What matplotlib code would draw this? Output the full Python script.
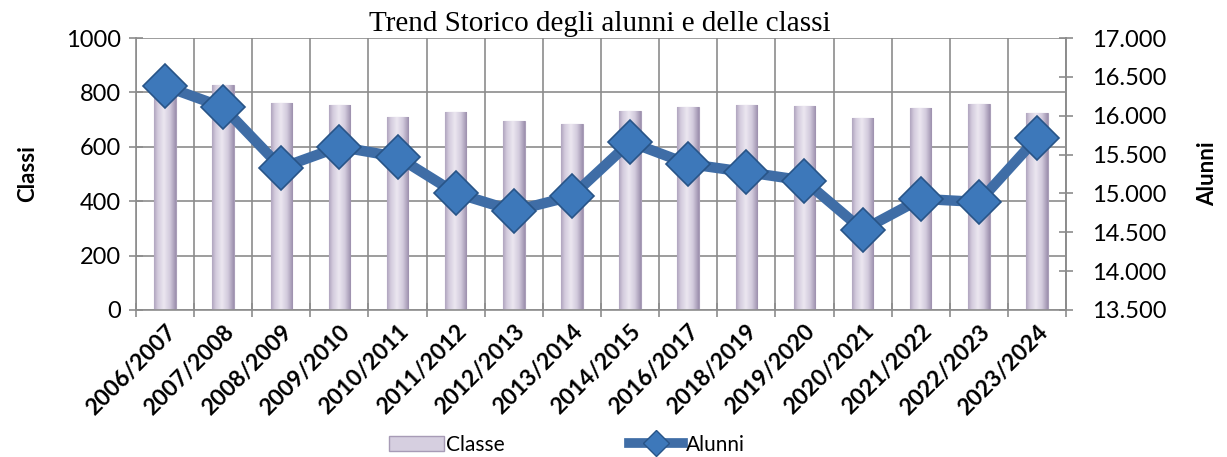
import numpy as np
import matplotlib.pyplot as plt
from matplotlib.ticker import FuncFormatter, MultipleLocator
from matplotlib.lines import Line2D
from matplotlib.patches import Patch
from matplotlib.colors import LinearSegmentedColormap

anni = ['2006/2007', '2007/2008', '2008/2009', '2009/2010', '2010/2011', '2011/2012',
        '2012/2013', '2013/2014', '2014/2015', '2016/2017', '2018/2019', '2019/2020',
        '2020/2021', '2021/2022', '2022/2023', '2023/2024']
classi = [822, 827, 761, 754, 710, 728, 695, 684, 732, 746, 754, 750, 706, 742, 757, 724]
alunni = [16380, 16110, 15330, 15600, 15470, 15005, 14775, 14965, 15660, 15380, 15275,
          15165, 14530, 14930, 14890, 15715]

plt.rcParams['font.family'] = ['Lato', 'DejaVu Sans']

fig = plt.figure(figsize=(12.27, 4.57), dpi=100)
ax = fig.add_axes([0.1108, 0.3217, 0.7580, 0.5951])
ax2 = ax.twinx()

x = np.arange(len(anni))
grigio = '#8c8c8c'

# barre con sfumatura orizzontale
bars = ax.bar(x, classi, width=0.37, color='#c9c0d4', edgecolor='#a99eb8', linewidth=0.8, zorder=2)
grad = np.linspace(0, 1, 64)
grad = 1 - np.abs(grad - 0.45) * 1.6
grad = np.vstack([grad, grad])
cmap = LinearSegmentedColormap.from_list('bar', ['#9d90ae', '#d3cbdd', '#ebe6f0'])
for b in bars:
    x0, w, h = b.get_x(), b.get_width(), b.get_height()
    im = ax.imshow(grad, cmap=cmap, aspect='auto', extent=[x0, x0 + w, 0, h], zorder=2.1)
    im.set_clip_path(b)

ax.set_xlim(-0.5, len(anni) - 0.5)
ax.set_ylim(0, 1000)
ax.yaxis.set_major_locator(MultipleLocator(200))
ax.set_xticks(x)
ax.set_xticklabels(anni, rotation=45, ha='right', rotation_mode='anchor', fontsize=16.5,
                   fontweight='bold')
ax.set_xticks(np.arange(-0.5, len(anni)), minor=True)
ax.tick_params(axis='x', which='major', length=0, pad=8)
ax.tick_params(axis='x', which='minor', length=10, direction='inout', color=grigio, width=1.2)
ax.tick_params(axis='y', labelsize=17, length=10, direction='inout', color=grigio, width=1.2, pad=6)
ax.grid(True, which='minor', axis='x', color=grigio, linewidth=1.2, zorder=0)
ax.grid(True, which='major', axis='y', color=grigio, linewidth=1.2, zorder=0)
ax.set_axisbelow(True)
ax.spines['top'].set_visible(False)
for s in ['left', 'bottom', 'right']:
    ax.spines[s].set_color(grigio)
    ax.spines[s].set_linewidth(1.2)
ax.set_ylabel('Classi', fontsize=16, fontweight='bold', labelpad=20)

ax2.plot(x, alunni, color='#3f6da6', linewidth=7.5, marker='D', markersize=22,
         markerfacecolor='#3d78ba', markeredgecolor='#285487', markeredgewidth=1.2, zorder=5)
ax2.set_ylim(13500, 17000)
ax2.yaxis.set_major_locator(MultipleLocator(500))
ax2.yaxis.set_major_formatter(FuncFormatter(lambda v, p: f'{int(v):,}'.replace(',', '.')))
ax2.tick_params(axis='y', labelsize=17, length=10, direction='inout', color=grigio, width=1.2, pad=14)
ax2.spines['top'].set_visible(False)
ax2.spines['right'].set_color(grigio)
ax2.spines['right'].set_linewidth(1.2)
ax2.spines['left'].set_visible(False)
ax2.spines['bottom'].set_visible(False)
ax2.set_ylabel('Alunni', fontsize=16, fontweight='bold', labelpad=22)

fig.text(0.489, 0.948, 'Trend Storico degli alunni e delle classi', ha='center', va='center',
         fontsize=21, family='Liberation Serif')

handles = [Patch(facecolor='#d6cfe0', edgecolor='#a79bb6', label='Classe'),
           Line2D([0], [0], color='#3f6da6', linewidth=7, marker='D', markersize=13,
                  markerfacecolor='#3d78ba', markeredgecolor='#285487', label='Alunni')]
fig.legend(handles=handles, loc='center', bbox_to_anchor=(0.462, 0.027), ncol=2, frameon=False,
           fontsize=15, handlelength=2.6, handletextpad=0.1, columnspacing=6)

fig.savefig('out.png', dpi=100)
